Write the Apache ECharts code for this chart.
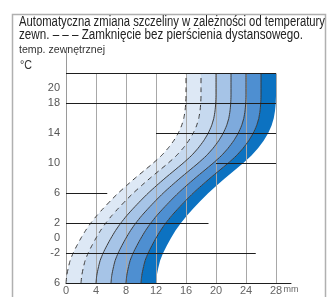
<!DOCTYPE html>
<html>
<head>
<meta charset="utf-8">
<script src="https://cdn.jsdelivr.net/npm/echarts@6/dist/echarts.min.js"></script>
<style>
  html, body { margin: 0; padding: 0; background: #fff; }
  #chart { width: 336px; height: 297px; }
</style>
</head>
<body>
<div id="chart"></div>
<script>
'use strict';
// Szczelina w funkcji temperatury zewnętrznej — S-curves, shaded bands

// temperature samples along every curve (°C)
const tempC = [-6, -5, -4, -3, -2, -1, 0, 1, 2, 3, 4, 5, 6, 7, 8, 9, 10, 11, 12, 13, 14, 15, 16, 17, 18, 19, 20, 22];
// gap of the leftmost curve at those temperatures (mm)
const baseGapMm = [0, 0.1, 0.3, 0.55, 0.95, 1.45, 2.0, 2.6, 3.3, 4.1, 5.0, 5.95, 6.95, 8.05, 9.2, 10.4, 11.6, 12.7, 13.6, 14.35, 14.95, 15.4, 15.7, 15.87, 15.96, 16, 16, 16];
// each curve is the same shape, shifted right (mm, read at the -6 °C end)
const curveShiftMm = [0, 2, 4, 6, 8, 10, 12];
const curveDash = ['dashed', 'dashed', 'solid', 'solid', 'solid', 'solid', null];
const bandColors = ['#dde8f5', '#c6d9ef', '#a6c4e7', '#7eaadc', '#4e8fd1', '#0c72c1'];

// black reference lines: y, from x, to x
const hLineY = [22, 18, 14, 10, 6, 2, -2];
const hLineFrom = [0, 0, 12, 20, 0, 0, 0];
const hLineTo = [28, 28, 28, 28, 5.5, 19, 25.3];
// grey verticals (mm)
const vLineX = [4, 8, 12, 16, 20, 24, 28];

const yTickLabels = { '20': '20', '18': '18', '14': '14', '10': '10', '6': '6', '2': '2', '0': '0', '-2': '-2', '-6': '6' };
const xTickLabels = { '0': '0', '4': '4', '8': '8', '12': '12', '16': '16', '20': '20', '24': '24', '28': '28', '30': '{u|mm}' };

const titleLines = [
  'Automatyczna zmiana szczeliny w zależności od temperatury',
  'zewn. – – – Zamknięcie bez pierścienia dystansowego.'
];
const FONT = "'Liberation Sans','DejaVu Sans',sans-serif";

function curvePts(k) { return tempC.map((t, i) => [baseGapMm[i] + curveShiftMm[k], t]); }

// condensed look: squeeze a text to the width it takes in the picture
const measureCtx = document.createElement('canvas').getContext('2d');
function squeezed(text, font, x, y, width, fill) {
  measureCtx.font = font;
  const w = measureCtx.measureText(text).width;
  return { type: 'text', silent: true, x, y, scaleX: width / w, scaleY: 1,
    style: { text, font, fill, textVerticalAlign: 'top', textAlign: 'left' } };
}

const chart = echarts.init(document.getElementById('chart'), null, { renderer: 'canvas' });

const series = [];

// bands between neighbouring curves
series.push({
  type: 'custom', coordinateSystem: 'cartesian2d', z: 1, silent: true,
  data: bandColors.map((c, i) => [i, 0]),
  renderItem: (params, api) => {
    const i = params.dataIndex;
    const left = curvePts(i).map(p => api.coord(p));
    const right = curvePts(i + 1).reverse().map(p => api.coord(p));
    return { type: 'polygon', shape: { points: left.concat(right) }, style: { fill: bandColors[i], stroke: null } };
  }
});

// grey verticals over the fill
series.push({
  type: 'custom', coordinateSystem: 'cartesian2d', z: 2, silent: true,
  data: vLineX.map(x => [x, 0]),
  renderItem: (params, api) => {
    const x = vLineX[params.dataIndex];
    const a = api.coord([x, -6]), b = api.coord([x, 22]);
    return { type: 'line', shape: { x1: Math.round(a[0]) + 0.5, y1: a[1], x2: Math.round(b[0]) + 0.5, y2: b[1] }, style: { stroke: '#a8a8a8', lineWidth: 1 } };
  }
});

// curve outlines
curveShiftMm.forEach((s, k) => {
  if (!curveDash[k]) return;
  series.push({
    type: 'line', data: curvePts(k), symbol: 'none', smooth: 0.2, z: 3, silent: true,
    lineStyle: { color: '#3a3a3a', width: 1, type: curveDash[k] === 'dashed' ? [5, 4] : 'solid' }
  });
});

// black horizontals
series.push({
  type: 'custom', coordinateSystem: 'cartesian2d', z: 4, silent: true,
  data: hLineY.map(y => [0, y]),
  renderItem: (params, api) => {
    const i = params.dataIndex;
    const a = api.coord([hLineFrom[i], hLineY[i]]), b = api.coord([hLineTo[i], hLineY[i]]);
    const y = Math.round(a[1]) + 0.5;
    return { type: 'line', shape: { x1: a[0], y1: y, x2: b[0], y2: y }, style: { stroke: '#1e1e1e', lineWidth: 1 } };
  }
});

chart.setOption({
  animation: false,
  grid: { left: 66, right: 45, top: 51, bottom: 14, containLabel: false },
  xAxis: {
    type: 'value', min: 0, max: 30, interval: 4,
    axisLine: { show: true, onZero: false, lineStyle: { color: '#1e1e1e', width: 1 } },
    axisTick: { show: false }, splitLine: { show: false },
    axisLabel: {
      color: '#666', fontSize: 11, fontFamily: FONT, margin: 2, showMaxLabel: true, showMinLabel: true,
      formatter: v => xTickLabels[String(v)] || '',
      rich: { u: { fontSize: 9, color: '#666', fontFamily: FONT } }
    }
  },
  yAxis: {
    type: 'value', min: -6, max: 25, interval: 2,
    axisLine: { show: true, onZero: false, lineStyle: { color: '#9a9a9a', width: 1 } },
    axisTick: { show: false }, splitLine: { show: false },
    axisLabel: { color: '#555', fontSize: 11, fontFamily: FONT, margin: 6, formatter: v => yTickLabels[String(v)] || '' }
  },
  graphic: [
    { type: 'rect', silent: true, shape: { x: 12.5, y: 14.5, width: 313, height: 300 }, style: { fill: 'none', stroke: '#b0b0b0', lineWidth: 1.5 } },
    squeezed(titleLines[0], '14px ' + FONT, 19, 15, 306, '#222'),
    squeezed(titleLines[1], '14px ' + FONT, 19, 28, 284, '#222'),
    squeezed('temp. zewnętrznej', '11px ' + FONT, 19, 44, 86, '#333'),
    squeezed('°C', '12px ' + FONT, 20, 60, 12, '#333')
  ],
  series
});

window.addEventListener('resize', () => chart.resize());
</script>
</body>
</html>
